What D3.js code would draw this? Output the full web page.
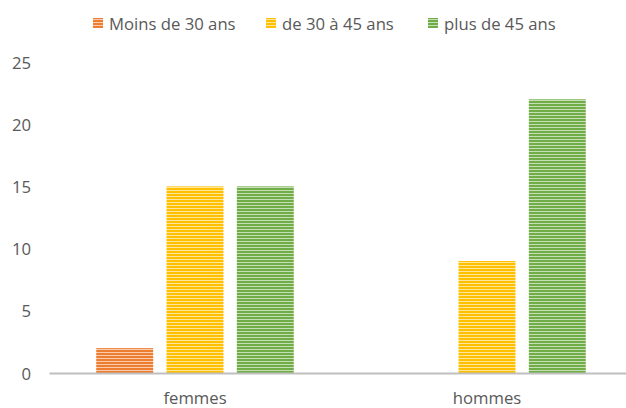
<!DOCTYPE html>
<html><head><meta charset="utf-8">
<script src="https://cdn.jsdelivr.net/npm/d3@7"></script>
<style>body{margin:0;background:#fff;} svg{display:block;}</style>
</head><body>
<script>
const categories = ["femmes", "hommes"];
const seriesNames = ["Moins de 30 ans", "de 30 à 45 ans", "plus de 45 ans"];
const seriesColors = ["#ED7D31", "#FFC000", "#70AD47"];
const valuesMoins30 = [2, null];
const values30a45 = [15, 9];
const valuesPlus45 = [15, 22];
const yTicks = [0, 5, 10, 15, 20, 25];

const seriesValues = [valuesMoins30, values30a45, valuesPlus45];
const W = 626, H = 408;
const FONT = "'Open Sans', sans-serif";
const FS = 16.7;
const svg = d3.select("body").append("svg").attr("width", W).attr("height", H);

const defs = svg.append("defs");
seriesColors.forEach((c, i) => {
  const p = defs.append("pattern").attr("id", "pat" + i).attr("patternUnits", "userSpaceOnUse")
    .attr("width", 6).attr("height", 3);
  p.append("rect").attr("width", 6).attr("height", 3).attr("fill", c);
  p.append("rect").attr("y", 1).attr("width", 6).attr("height", 1).attr("fill", "#fff").attr("opacity", 0.6);
});

const x0 = d3.scaleBand().domain(categories).range([49, 633]).paddingInner(0).paddingOuter(0);
const x1 = d3.scaleBand().domain(d3.range(seriesNames.length)).range([0, x0.bandwidth()]).paddingInner(0.19).paddingOuter(0.672);
const y = d3.scaleLinear().domain([0, 25]).range([373, 62]);

// bars
categories.forEach((cat, ci) => {
  seriesValues.forEach((vals, si) => {
    const v = vals[ci];
    if (v == null || v === 0) return;
    svg.append("rect")
      .attr("x", x0(cat) + x1(si))
      .attr("y", y(v))
      .attr("width", x1.bandwidth())
      .attr("height", y(0) - y(v))
      .attr("fill", "url(#pat" + si + ")");
  });
});

// y axis labels
const yAxis = d3.axisLeft(y).tickValues(yTicks).tickSize(0).tickPadding(0);
const gy = svg.append("g").attr("transform", "translate(31,0)").call(yAxis);
gy.select(".domain").remove();
gy.selectAll("text").attr("font-family", FONT).attr("font-size", FS).attr("fill", "#595959").attr("dy", "0.36em");

// x axis
const xAxis = d3.axisBottom(x0).tickSize(0).tickPadding(0);
const gx = svg.append("g").attr("transform", "translate(0," + y(0) + ")").call(xAxis);
gx.select(".domain").attr("stroke", "#BFBFBF").attr("stroke-width", 2);
gx.selectAll("text").attr("font-family", FONT).attr("font-size", FS).attr("fill", "#595959")
  .attr("y", 31).attr("dy", null);

// legend
const legendX = [93, 266, 428];
const lg = svg.append("g");
seriesNames.forEach((n, i) => {
  lg.append("rect").attr("x", legendX[i]).attr("y", 18).attr("width", 10).attr("height", 10).attr("fill", "url(#pat" + i + ")");
  lg.append("text").attr("x", legendX[i] + 16).attr("y", 30).text(n)
    .attr("font-family", FONT).attr("font-size", FS).attr("fill", "#595959");
});
</script>
</body></html>
